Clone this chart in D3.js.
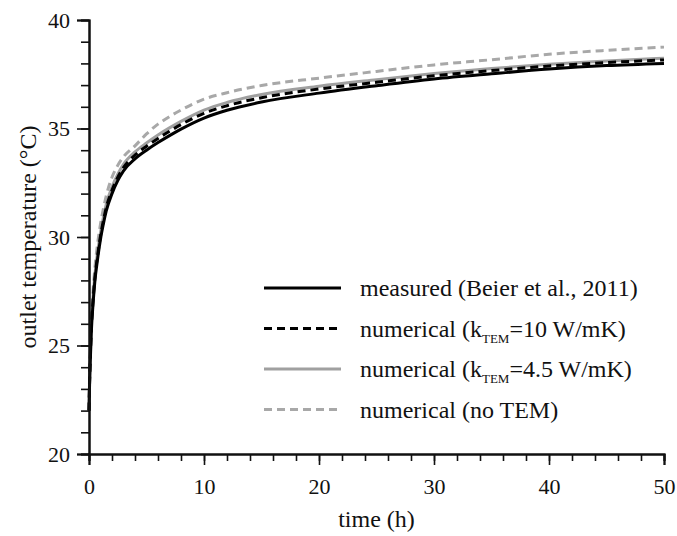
<!DOCTYPE html>
<html>
<head>
<meta charset="utf-8">
<script src="https://cdn.jsdelivr.net/npm/d3@7"></script>
<style>
  html, body { margin: 0; padding: 0; background: #fff; }
  svg text { font-family: "Liberation Serif", "Times New Roman", serif; fill: #111; }
</style>
</head>
<body>
<svg id="chart" width="677" height="536"></svg>
<script>
// Time axis samples (h)
const time = [0, 0.05, 0.1, 0.2, 0.35, 0.5, 0.75, 1, 1.25, 1.5, 2, 2.5, 3, 4, 5, 6, 7, 8, 10, 12, 15, 20, 25, 30, 35, 40, 45, 50];

// Outlet temperature (°C) for each series
const measured = [22.0, 23.2, 24.1, 25.6, 26.9, 27.9, 29.0, 29.9, 30.6, 31.2, 32.0, 32.6, 33.05, 33.6, 34.0, 34.35, 34.67, 34.97, 35.48, 35.84, 36.22, 36.63, 36.97, 37.28, 37.52, 37.74, 37.9, 38.0];
const numK10 = [22.0, 23.3, 24.2, 25.75, 27.05, 28.05, 29.15, 30.05, 30.75, 31.35, 32.15, 32.75, 33.2, 33.77, 34.18, 34.54, 34.87, 35.18, 35.7, 36.05, 36.42, 36.82, 37.13, 37.43, 37.67, 37.88, 38.04, 38.16];
const numK45 = [22.0, 23.4, 24.3, 25.9, 27.2, 28.2, 29.3, 30.2, 30.9, 31.5, 32.3, 32.9, 33.35, 33.92, 34.33, 34.7, 35.03, 35.33, 35.85, 36.2, 36.57, 36.95, 37.25, 37.53, 37.76, 37.96, 38.11, 38.24];
const numNoTEM = [22.0, 23.5, 24.5, 26.1, 27.5, 28.5, 29.7, 30.6, 31.3, 31.9, 32.75, 33.3, 33.7, 34.2, 34.75, 35.2, 35.55, 35.85, 36.35, 36.65, 36.98, 37.32, 37.63, 37.93, 38.17, 38.42, 38.6, 38.75];

// Tick values
const xMajorTicks = [0, 10, 20, 30, 40, 50];
const xMinorTicks = d3.range(0, 51, 2);
const yMajorTicks = [20, 25, 30, 35, 40];
const yMinorTicks = d3.range(20, 41, 1);

const seriesList = [
  { values: measured, color: "#000", dash: null, width: 3, label: "measured (Beier et al., 2011)" },
  { values: numK10, color: "#000", dash: "8,5", width: 3, label: ["numerical (k", "TEM", "=10 W/mK)"] },
  { values: numK45, color: "#a0a0a0", dash: null, width: 3, label: ["numerical (k", "TEM", "=4.5 W/mK)"] },
  { values: numNoTEM, color: "#a8a8a8", dash: "8,5", width: 3, label: "numerical (no TEM)" }
];

const svg = d3.select("#chart");
const plot = { left: 89, right: 664, top: 20, bottom: 454 };

const x = d3.scaleLinear().domain([0, 50]).range([plot.left, plot.right]);
const y = d3.scaleLinear().domain([20, 40]).range([plot.bottom, plot.top]);

// Curves (gray first so the black ones sit on top)
const line = d3.line().x((d, i) => x(time[i])).y(d => y(d)).curve(d3.curveMonotoneX);
const drawOrder = [3, 2, 0, 1];
drawOrder.forEach(k => {
  const s = seriesList[k];
  svg.append("path")
    .attr("d", line(s.values))
    .attr("fill", "none")
    .attr("stroke", s.color)
    .attr("stroke-width", s.width)
    .attr("stroke-dasharray", s.dash)
    .attr("stroke-linejoin", "round");
});

// X axis: minor ticks then major ticks with labels
const xAxisMinor = d3.axisBottom(x).tickValues(xMinorTicks).tickSize(7).tickFormat("");
const xAxisMajor = d3.axisBottom(x).tickValues(xMajorTicks).tickSize(11).tickPadding(13).tickFormat(d3.format("d"));
const gxm = svg.append("g").attr("transform", `translate(0,${plot.bottom})`).call(xAxisMinor);
const gx = svg.append("g").attr("transform", `translate(0,${plot.bottom})`).call(xAxisMajor);
[gxm, gx].forEach(g => {
  g.select(".domain").attr("stroke", "#111").attr("stroke-width", 2);
  g.selectAll(".tick line").attr("stroke", "#111").attr("stroke-width", 1.6);
});
gx.selectAll(".tick text").attr("font-size", 22).attr("fill", "#111")
  .attr("font-family", '"Liberation Serif", serif');

// Y axis
const yAxisMinor = d3.axisLeft(y).tickValues(yMinorTicks).tickSize(8).tickFormat("");
const yAxisMajor = d3.axisLeft(y).tickValues(yMajorTicks).tickSize(12).tickPadding(7).tickFormat(d3.format("d"));
const gym = svg.append("g").attr("transform", `translate(${plot.left},0)`).call(yAxisMinor);
const gy = svg.append("g").attr("transform", `translate(${plot.left},0)`).call(yAxisMajor);
[gym, gy].forEach(g => {
  g.select(".domain").attr("stroke", "#111").attr("stroke-width", 2);
  g.selectAll(".tick line").attr("stroke", "#111").attr("stroke-width", 1.6);
});
gy.selectAll(".tick text").attr("font-size", 22).attr("fill", "#111")
  .attr("font-family", '"Liberation Serif", serif');

// Axis titles
svg.append("text")
  .attr("x", (plot.left + plot.right) / 2)
  .attr("y", 527)
  .attr("text-anchor", "middle")
  .attr("font-size", 24)
  .text("time (h)");

svg.append("text")
  .attr("transform", `translate(36,${(plot.top + plot.bottom) / 2}) rotate(-90)`)
  .attr("text-anchor", "middle")
  .attr("font-size", 24)
  .text("outlet temperature (°C)");

// Legend
const legendRows = [288, 328.5, 369, 409.5];
seriesList.forEach((s, i) => {
  const ly = legendRows[i];
  svg.append("line")
    .attr("x1", 264).attr("x2", 341)
    .attr("y1", ly).attr("y2", ly)
    .attr("stroke", s.color)
    .attr("stroke-width", s.width)
    .attr("stroke-dasharray", s.dash);
  const t = svg.append("text")
    .attr("x", 360)
    .attr("y", ly + 8)
    .attr("font-size", 24);
  if (Array.isArray(s.label)) {
    t.append("tspan").text(s.label[0]);
    t.append("tspan").attr("font-size", 13).attr("dy", 6).text(s.label[1]);
    t.append("tspan").attr("dy", -6).text(s.label[2]);
  } else {
    t.text(s.label);
  }
});
</script>
</body>
</html>
